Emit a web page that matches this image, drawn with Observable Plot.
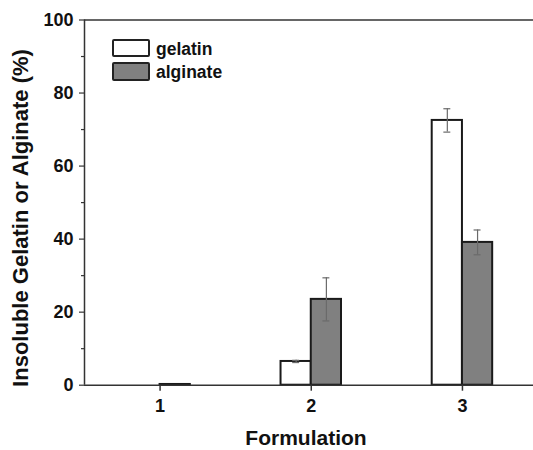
<!DOCTYPE html>
<html><head><meta charset="utf-8">
<script src="https://cdn.jsdelivr.net/npm/d3@7"></script>
<script src="https://cdn.jsdelivr.net/npm/@observablehq/plot@0.6"></script>
<style>
html,body{margin:0;padding:0;background:#fff;overflow:hidden}
#wrap{position:relative;width:533px;height:450px}
.legend{position:absolute;left:112px;top:39px;font:bold 17.5px "Liberation Sans",Arial,sans-serif;color:#111}
.row{display:flex;align-items:center;height:18.4px;margin-bottom:5px}
.sw{width:34px;height:14.4px;border:2px solid #222;border-radius:2px;box-sizing:content-box;margin-right:6px}
.lab{position:relative;top:1px}
.ytitle{position:absolute;left:20.7px;top:218px;transform:translate(-50%,-50%) rotate(-90deg);white-space:nowrap;font:bold 22px/22px "Liberation Sans",Arial,sans-serif;color:#111}
</style></head><body><div id="wrap"></div>
<script>
const formulations = [1, 2, 3];
const seriesNames = ["gelatin", "alginate"];
const seriesFill = ["#ffffff", "#808080"];
const gelatin = [0, 6.5, 72.5];
const gelatinErr = [0, 0.3, 3.2];
const alginate = [0.2, 23.5, 39.1];
const alginateErr = [0, 5.9, 3.4];
const yTicks = [0, 20, 40, 60, 80, 100];
const yMinor = [10, 30, 50, 70, 90];
const xTicks = [1, 2, 3];
const xTitle = "Formulation";
const yTitle = "Insoluble Gelatin or Alginate (%)";

const bw = 0.2;
const rows = formulations.flatMap((f, i) => [
  {f, series: seriesNames[0], v: gelatin[i], e: gelatinErr[i], side: -1},
  {f, series: seriesNames[1], v: alginate[i], e: alginateErr[i], side: 1}
]);
const left = d => d.side < 0 ? d.f - bw : d.f;
const right = d => d.side < 0 ? d.f : d.f + bw;
const mid = d => d.f + d.side * bw / 2;
const errRows = rows.filter(d => d.e > 0);
const cap = 0.023;

const chart = Plot.plot({
  width: 533, height: 450,
  marginTop: 19.5, marginBottom: 65.3, marginLeft: 84, marginRight: 0,
  style: {fontFamily: "'Liberation Sans', Arial, sans-serif", fontWeight: "bold", fontSize: "18px", color: "#111", background: "#fff"},
  x: {type: "linear", domain: [0.5, 3.47]},
  y: {domain: [0, 100]},
  color: {domain: seriesNames, range: seriesFill},
  marks: [
    Plot.rect(rows.filter(d => d.v > 0), {x1: left, x2: right, y1: d => 0, y2: "v", fill: "series", stroke: "#1a1a1a", strokeWidth: 2}),
    Plot.ruleX(errRows, {x: mid, y1: d => d.v - d.e, y2: d => d.v + d.e, stroke: "#6a6a6a", strokeWidth: 1.2}),
    Plot.ruleY(errRows, {y: d => d.v + d.e, x1: d => mid(d) - cap, x2: d => mid(d) + cap, stroke: "#6a6a6a", strokeWidth: 1.2}),
    Plot.ruleY(errRows, {y: d => d.v - d.e, x1: d => mid(d) - cap, x2: d => mid(d) + cap, stroke: "#6a6a6a", strokeWidth: 1.2}),
    Plot.ruleY([0, 100], {stroke: "#333", strokeWidth: 1.5}),
    Plot.ruleX([0.5], {stroke: "#333", strokeWidth: 1.5}),
    Plot.axisY(yTicks, {tickSize: 5, tickPadding: 6, label: null, stroke: "#333", strokeWidth: 1.2, fontSize: 18, fontWeight: "bold", fill: "#111"}),
    Plot.axisY(yMinor, {tickSize: 3, tickFormat: () => "", label: null, stroke: "#333", strokeWidth: 1.2}),
    Plot.axisX(xTicks, {tickSize: 6, tickPadding: 8, tickFormat: d => String(d), label: null, stroke: "#333", strokeWidth: 1.5, fontSize: 18, fontWeight: "bold", fill: "#111"}),
    Plot.text([xTitle], {text: d => d, frameAnchor: "bottom", dx: -3, dy: 60, fontSize: 21, fontWeight: "bold", fill: "#111"})
  ]
});
const wrap = document.getElementById("wrap");
wrap.appendChild(chart);

const yt = document.createElement("div");
yt.className = "ytitle";
yt.textContent = yTitle;
wrap.appendChild(yt);

const legend = document.createElement("div");
legend.className = "legend";
seriesNames.forEach((name, i) => {
  const row = document.createElement("div");
  row.className = "row";
  const sw = document.createElement("div");
  sw.className = "sw";
  sw.style.background = seriesFill[i];
  const lab = document.createElement("span");
  lab.className = "lab";
  lab.textContent = name;
  row.appendChild(sw); row.appendChild(lab);
  legend.appendChild(row);
});
wrap.appendChild(legend);
</script></body></html>
